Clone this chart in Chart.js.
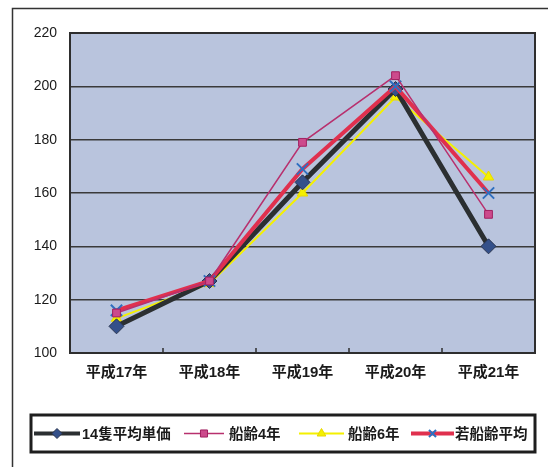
<!DOCTYPE html>
<html>
<head>
<meta charset="utf-8">
<script src="https://cdn.jsdelivr.net/npm/chart.js@4.4.1/dist/chart.umd.min.js"></script>
<style>
  html, body { margin: 0; padding: 0; background: #ffffff; }
  #wrap { position: relative; width: 548px; height: 467px; }
</style>
</head>
<body>
<div id="wrap"><canvas id="c" width="548" height="467"></canvas></div>
<script>
// Years (Heisei era) on the category axis
const years = ['平成17年', '平成18年', '平成19年', '平成20年', '平成21年'];

// Price index series
const avg14Ships = [110, 127, 164, 199, 140];   // 14隻平均単価
const age4Years  = [115, 127, 179, 204, 152];   // 船齢4年
const age6Years  = [113, 126, 160, 196, 166];   // 船齢6年
const youngAvg   = [116, 127, 169, 200, 160];   // 若船齢平均

// Value-axis ticks
const yMin = 100, yMax = 220, yStep = 20;

const FONT = '"Liberation Sans", "Noto Sans CJK JP", sans-serif';

// Plot background, plot frame and outer frame
const framePlugin = {
  id: 'frame',
  beforeDraw(chart) {
    const { ctx, chartArea: a } = chart;
    ctx.save();
    ctx.fillStyle = '#b9c4dd';
    ctx.fillRect(a.left, a.top, a.right - a.left, a.bottom - a.top);
    ctx.restore();
  },
  afterDraw(chart) {
    const { ctx, chartArea: a } = chart;
    ctx.save();
    ctx.strokeStyle = '#2e2e2e';
    ctx.lineWidth = 2;
    ctx.strokeRect(a.left, a.top, a.right - a.left, a.bottom - a.top);
    // small category separators on the bottom axis
    const xs = chart.scales.x;
    ctx.lineWidth = 1.5;
    for (let i = 1; i < years.length; i++) {
      const x = (xs.getPixelForValue(i - 1) + xs.getPixelForValue(i)) / 2;
      ctx.beginPath();
      ctx.moveTo(x, a.bottom);
      ctx.lineTo(x, a.bottom - 5);
      ctx.stroke();
    }
    // outer frame
    ctx.strokeStyle = '#333333';
    ctx.lineWidth = 1.5;
    ctx.beginPath();
    ctx.moveTo(12.5, 470);
    ctx.lineTo(12.5, 8.5);
    ctx.lineTo(560, 8.5);
    ctx.stroke();
    ctx.restore();
  }
};

// Boxed legend row: line sample with the series marker, then the label
const boxLegend = {
  id: 'boxLegend',
  afterDraw(chart) {
    const { ctx } = chart;
    const box = { x: 31, y: 415, w: 504, h: 37 };
    const cy = box.y + box.h / 2;
    const items = [
      { sx: 34, ex: 80, tx: 82 },
      { sx: 184, ex: 224, tx: 229 },
      { sx: 299, ex: 344, tx: 348 },
      { sx: 411, ex: 454, tx: 455 }
    ];
    ctx.save();
    ctx.fillStyle = '#ffffff';
    ctx.fillRect(box.x, box.y, box.w, box.h);
    chart.data.datasets.forEach((ds, i) => {
      const it = items[i];
      ctx.strokeStyle = ds.borderColor;
      ctx.lineWidth = Math.min(ds.borderWidth, 4);
      ctx.beginPath();
      ctx.moveTo(it.sx, cy);
      ctx.lineTo(it.ex, cy);
      ctx.stroke();
      ctx.fillStyle = ds.pointBackgroundColor;
      ctx.strokeStyle = ds.pointBorderColor;
      ctx.lineWidth = ds.pointBorderWidth;
      Chart.helpers.drawPoint(ctx, {
        pointStyle: ds.pointStyle,
        radius: 5,
        rotation: 0,
        borderWidth: ds.pointBorderWidth
      }, (it.sx + it.ex) / 2, cy);
      ctx.fillStyle = '#1a1a1a';
      ctx.font = 'bold 14.5px ' + FONT;
      ctx.textBaseline = 'middle';
      ctx.fillText(ds.label, it.tx, cy + 1);
    });
    ctx.strokeStyle = '#1e1e1e';
    ctx.lineWidth = 3;
    ctx.strokeRect(box.x, box.y, box.w, box.h);
    ctx.restore();
  }
};

new Chart(document.getElementById('c'), {
  type: 'line',
  data: {
    labels: years,
    datasets: [
      {
        label: '14隻平均単価',
        data: avg14Ships,
        borderColor: '#2b2f31',
        borderWidth: 5,
        pointStyle: 'rectRot',
        pointRadius: 7.5,
        pointBackgroundColor: '#34508a',
        pointBorderColor: '#2a3550',
        pointBorderWidth: 1,
        order: 3
      },
      {
        label: '船齢4年',
        data: age4Years,
        borderColor: '#b8306e',
        borderWidth: 1.5,
        pointStyle: 'rect',
        pointRadius: 5.5,
        pointBackgroundColor: '#cc4a8c',
        pointBorderColor: '#a02060',
        pointBorderWidth: 1,
        order: 1
      },
      {
        label: '船齢6年',
        data: age6Years,
        borderColor: '#f4f000',
        borderWidth: 2,
        pointStyle: 'triangle',
        pointRadius: 6,
        pointBackgroundColor: '#f4f000',
        pointBorderColor: '#e8d800',
        pointBorderWidth: 1,
        order: 4
      },
      {
        label: '若船齢平均',
        data: youngAvg,
        borderColor: '#e0304e',
        borderWidth: 4,
        pointStyle: 'crossRot',
        pointRadius: 8,
        pointBackgroundColor: '#2f6fc0',
        pointBorderColor: '#2f6fc0',
        pointBorderWidth: 2,
        order: 2
      }
    ]
  },
  options: {
    responsive: false,
    animation: false,
    layout: { padding: { left: 0, right: 13, top: 33, bottom: 74 } },
    plugins: { legend: { display: false }, tooltip: { enabled: false } },
    elements: { line: { tension: 0 } },
    scales: {
      x: {
        offset: true,
        grid: { display: false, drawTicks: false },
        border: { display: false },
        ticks: { color: '#1a1a1a', font: { family: FONT, size: 15, weight: 'bold' }, padding: 11 },
        afterFit(s) { s.height = 40; }
      },
      y: {
        min: yMin,
        max: yMax,
        ticks: { stepSize: yStep, color: '#1a1a1a', font: { family: FONT, size: 14 }, padding: 13 },
        grid: { color: '#3a3a3a', lineWidth: 1.5, drawTicks: false },
        border: { display: false },
        afterFit(s) { s.width = 70; }
      }
    }
  },
  plugins: [framePlugin, boxLegend]
});
</script>
</body>
</html>
